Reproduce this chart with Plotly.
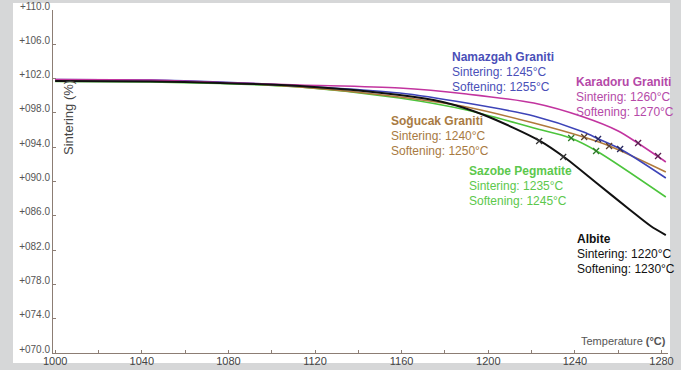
import plotly.graph_objects as go

# ---------------- data ----------------
x_ticks = [1000, 1020, 1040, 1060, 1080, 1100, 1120, 1140, 1160, 1180, 1200, 1220, 1240, 1260, 1280]
x_tick_text = ["1000", "", "1040", "", "1080", "", "1120", "", "1160", "", "1200", "", "1240", "", "1280"]
y_ticks = [70, 74, 78, 82, 86, 90, 94, 98, 102, 106, 110]
y_tick_text = ["+070.0", "+074.0", "+078.0", "+082.0", "+086.0", "+090.0",
               "+094.0", "+098.0", "+102.0", "+106.0", "+110.0"]

karadoru_t = [1000, 1044, 1076, 1113, 1159, 1190, 1221, 1244, 1260, 1269, 1278, 1282]
karadoru_s = [101.90, 101.84, 101.55, 101.25, 100.90, 100.20, 99.15, 97.52, 95.89, 94.49, 92.97, 92.27]
karadoru_mt = [1269.2, 1278.4]
karadoru_ms = [94.49, 92.97]

namazgah_t = [1000, 1044, 1076, 1113, 1159, 1190, 1221, 1244, 1251, 1261, 1282]
namazgah_s = [101.90, 101.84, 101.61, 101.14, 100.32, 99.15, 97.64, 95.77, 94.96, 93.79, 90.41]
namazgah_mt = [1250.7, 1260.9]
namazgah_ms = [94.96, 93.79]

sogucak_t = [1000, 1044, 1076, 1113, 1159, 1190, 1221, 1244, 1256, 1282]
sogucak_s = [101.78, 101.72, 101.55, 101.02, 99.85, 98.69, 96.82, 95.19, 94.14, 91.11]
sogucak_mt = [1244.3, 1255.8]
sogucak_ms = [95.19, 94.14]

sazobe_t = [1000, 1044, 1076, 1113, 1159, 1190, 1221, 1238, 1250, 1282]
sazobe_s = [101.66, 101.60, 101.43, 101.02, 99.74, 98.34, 96.24, 95.07, 93.56, 88.19]
sazobe_mt = [1238.3, 1249.8]
sazobe_ms = [95.07, 93.56]

albite_t = [1000, 1044, 1076, 1113, 1159, 1179, 1198, 1224, 1235, 1250, 1265.5, 1275, 1282]
albite_s = [101.72, 101.66, 101.49, 101.14, 100.09, 99.27, 97.76, 94.72, 92.86, 89.83, 86.68, 84.81, 83.76]
albite_mt = [1223.5, 1234.6]
albite_ms = [94.72, 92.86]

# ---------------- layout helpers ----------------
W, H = 681, 370
L, R, T, B = 53, 668, 10, 353


def px(x):
    return (x - L) / (R - L)


def py(y):
    return (B - y) / (B - T)


FONT = "Liberation Sans, Arial, sans-serif"

series = [
    ("Sazobe Pegmatite", sazobe_t, sazobe_s, sazobe_mt, sazobe_ms, "#4cc43c", "#2f7a2a", 1.6),
    ("Soğucak Graniti", sogucak_t, sogucak_s, sogucak_mt, sogucak_ms, "#b07a3c", "#5a4030", 1.6),
    ("Namazgah Graniti", namazgah_t, namazgah_s, namazgah_mt, namazgah_ms, "#3d44b8", "#2a2a60", 1.6),
    ("Karadoru Graniti", karadoru_t, karadoru_s, karadoru_mt, karadoru_ms, "#c2349f", "#5a2050", 1.6),
    ("Albite", albite_t, albite_s, albite_mt, albite_ms, "#111111", "#333333", 2.0),
]

fig = go.Figure()
for name, t, s, mt, ms, col, mcol, w in series:
    fig.add_trace(go.Scatter(x=t, y=s, mode="lines", name=name,
                             line=dict(color=col, width=w, shape="spline", smoothing=0.8),
                             hoverinfo="skip"))
for name, t, s, mt, ms, col, mcol, w in series:
    fig.add_trace(go.Scatter(x=mt, y=ms, mode="markers", name=name + " marks",
                             marker=dict(symbol="x-thin", size=6,
                                         line=dict(color=mcol, width=1.3)),
                             hoverinfo="skip"))

labels = [
    # (x_px, y_px_first_line, title, sintering, softening, colour)
    (450, 57, "Namazgah Graniti", "Sintering: 1245°C", "Softening: 1255°C", "#4a4fb8"),
    (574, 82, "Karadoru Graniti", "Sintering: 1260°C", "Softening: 1270°C", "#b549a8"),
    (389, 121, "Soğucak Graniti", "Sintering: 1240°C", "Softening: 1250°C", "#a87a42"),
    (467, 171, "Sazobe Pegmatite", "Sintering: 1235°C", "Softening: 1245°C", "#5cc84c"),
    (575, 239, "Albite", "Sintering: 1220°C", "Softening: 1230°C", "#111111"),
]
annotations = []
for xp, yp, title, sint, soft, col in labels:
    for i, (txt, bold) in enumerate([(title, True), (sint, False), (soft, False)]):
        annotations.append(dict(
            xref="paper", yref="paper", x=px(xp), y=py(yp + i * 15),
            xanchor="left", yanchor="middle", showarrow=False,
            text=f"<b>{txt}</b>" if bold else txt,
            font=dict(family=FONT, size=12, color=col)))

annotations.append(dict(xref="paper", yref="paper", x=px(69), y=py(118),
                        xanchor="center", yanchor="middle", showarrow=False,
                        textangle=-90, text="Sintering (%)",
                        font=dict(family=FONT, size=13, color="#444444")))
annotations.append(dict(xref="paper", yref="paper", x=px(668), y=py(341),
                        xanchor="right", yanchor="middle", showarrow=False,
                        text="Temperature <b>(°C)</b>",
                        font=dict(family=FONT, size=11, color="#555555")))

fig.update_layout(
    width=W, height=H,
    margin=dict(l=L, r=W - R, t=T, b=H - B, autoexpand=False),
    paper_bgcolor="#d6d7d8",
    plot_bgcolor="white",
    showlegend=False,
    annotations=annotations,
    shapes=[dict(type="rect", xref="paper", yref="paper",
                 x0=px(13), x1=px(670), y0=py(363), y1=py(3),
                 fillcolor="white", line=dict(width=0), layer="below")],
    xaxis=dict(range=[999, 1283], tickvals=x_ticks, ticktext=x_tick_text,
               automargin=False, ticklabelstandoff=-2,
               showgrid=False, zeroline=False, showline=True,
               linecolor="#8c7d74", linewidth=1, ticks="inside", ticklen=3,
               tickcolor="#8c7d74",
               tickfont=dict(family=FONT, size=11, color="#444444")),
    yaxis=dict(range=[70, 110], tickvals=y_ticks, ticktext=y_tick_text,
               automargin=False, ticklabelshift=-4,
               showgrid=False, zeroline=False, showline=True,
               linecolor="#8c7d74", linewidth=1, ticks="inside", ticklen=3,
               tickcolor="#8c7d74",
               tickfont=dict(family=FONT, size=10, color="#555555")),
)

fig.write_html("out.html",
               config={"displayModeBar": False, "staticPlot": True},
               post_script="document.body.style.margin='0px';document.body.style.overflow='hidden';")
